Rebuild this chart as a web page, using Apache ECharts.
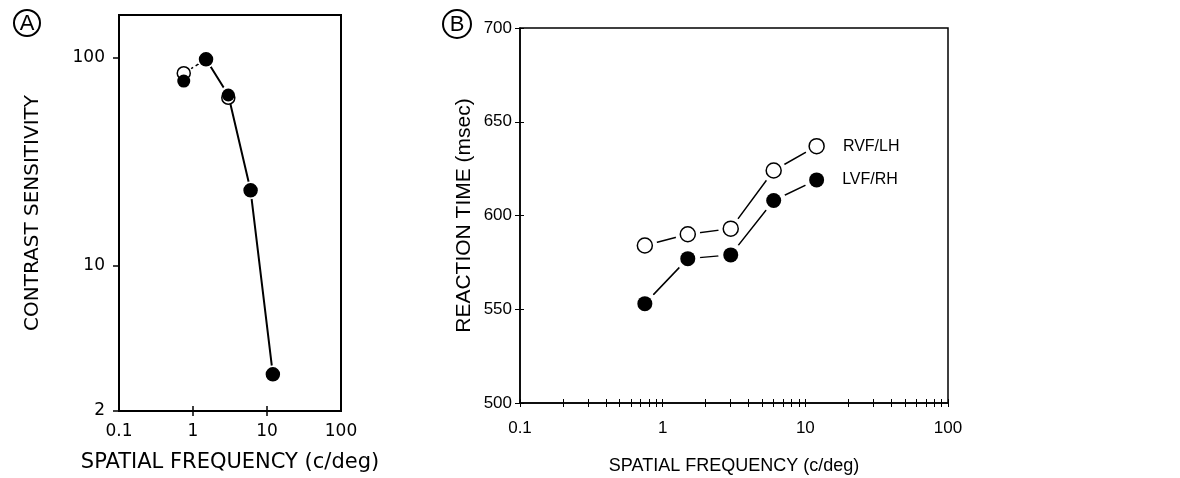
<!DOCTYPE html>
<html>
<head>
<meta charset="utf-8">
<script src="https://cdn.jsdelivr.net/npm/echarts@6/dist/echarts.min.js"></script>
<style>
  html, body { margin: 0; padding: 0; background: #fff; }
  #chart { width: 1180px; height: 478px; }
</style>
</head>
<body>
<div id="chart"></div>
<script>
// spatial frequencies (c/deg), shared by both panels
const freqs = [0.75, 1.5, 3, 6, 12]

// panel A: contrast sensitivity
const sensOpen = [84, 98, 64, 23, 3.0]
const sensFilled = [77, 98, 66, 23, 3.0]

// panel B: reaction time (msec)
const rtRVF = [584, 590, 593, 624, 637]
const rtLVF = [553, 577, 579, 608, 619]
const seriesNames = ['RVF/LH', 'LVF/RH']

// tick labels
const freqLabels = [0.1, 1, 10, 100]
const freqMinor = [0.2, 0.3, 0.4, 0.5, 0.6, 0.7, 0.8, 0.9, 2, 3, 4, 5, 6, 7, 8, 9, 20, 30, 40, 50, 60, 70, 80, 90]
const sensLabels = [2, 10, 100]
const rtLabels = [500, 550, 600, 650, 700]

const fontA = 'DejaVu Sans'
const fontB = "'Liberation Sans', sans-serif"
const ink = '#000'

function pairs(xs, ys) {
  return xs.map((x, i) => [x, ys[i]])
}

// last point carries the series name as a label
function labelled(data, name) {
  return data.map((d, i) => i === data.length - 1
    ? { value: d, label: { show: true, position: 'right', distance: 18, formatter: name, fontFamily: fontB, fontSize: 16, color: ink } }
    : d)
}

const chart = echarts.init(document.getElementById('chart'), null, { renderer: 'canvas' })

const lineBase = { type: 'line', symbol: 'circle', silent: true, z: 2 }
const halo = { color: '#fff', borderColor: '#fff', opacity: 1 }

const option = {
  animation: false,
  backgroundColor: '#fff',
  grid: [
    { left: 119, top: 15, width: 222, height: 396, show: true, borderColor: ink, borderWidth: 2, backgroundColor: 'transparent', outerBoundsMode: 'none' },
    { left: 520, top: 28, width: 428, height: 375, show: true, borderColor: ink, borderWidth: 1.5, backgroundColor: 'transparent', outerBoundsMode: 'none' },
  ],
  xAxis: [
    {
      gridIndex: 0, type: 'log', logBase: 10, min: 0.1, max: 100, position: 'bottom',
      name: 'SPATIAL FREQUENCY (c/deg)', nameLocation: 'middle', nameGap: 41,
      nameTextStyle: { fontFamily: fontA, fontSize: 21, color: ink },
      axisLine: { lineStyle: { color: ink, width: 2 } },
      axisTick: { show: true, length: 5, customValues: [1, 10], lineStyle: { color: ink, width: 1.5 } },
      axisLabel: { customValues: freqLabels, margin: 12, fontFamily: fontA, fontSize: 17, color: ink },
      splitLine: { show: false },
    },
    {
      gridIndex: 1, type: 'log', logBase: 10, min: 0.1, max: 100, position: 'bottom',
      name: 'SPATIAL FREQUENCY (c/deg)', nameLocation: 'middle', nameGap: 54,
      nameTextStyle: { fontFamily: fontB, fontSize: 18, color: ink },
      axisLine: { lineStyle: { color: ink, width: 1.5 } },
      axisTick: { show: true, length: 4, customValues: freqLabels.concat(freqMinor), lineStyle: { color: ink, width: 1 } },
      axisLabel: { customValues: freqLabels, margin: 17, fontFamily: fontB, fontSize: 17, color: ink },
      splitLine: { show: false },
    },
    {
      // inner half of the crossing ticks on panel B
      gridIndex: 1, type: 'log', logBase: 10, min: 0.1, max: 100, position: 'bottom',
      axisLine: { show: false },
      axisTick: { show: true, inside: true, length: 4, customValues: freqLabels.concat(freqMinor), lineStyle: { color: ink, width: 1 } },
      axisLabel: { show: false },
      splitLine: { show: false },
    },
    {
      gridIndex: 0, type: 'log', logBase: 10, min: 0.1, max: 100, position: 'bottom',
      axisLine: { show: false },
      axisTick: { show: true, inside: true, length: 5, customValues: [1, 10], lineStyle: { color: ink, width: 1.5 } },
      axisLabel: { show: false },
      splitLine: { show: false },
    },
  ],
  yAxis: [
    {
      gridIndex: 0, type: 'log', logBase: 10, min: 2, max: 160, position: 'left',
      name: 'CONTRAST SENSITIVITY', nameLocation: 'middle', nameGap: 76,
      nameTextStyle: { fontFamily: fontA, fontSize: 20, color: ink },
      axisLine: { lineStyle: { color: ink, width: 2 } },
      axisTick: { show: true, length: 6, customValues: sensLabels, lineStyle: { color: ink, width: 1.5 } },
      axisLabel: { customValues: sensLabels, margin: 14, fontFamily: fontA, fontSize: 17, color: ink },
      splitLine: { show: false },
    },
    {
      gridIndex: 1, type: 'value', min: 500, max: 700, interval: 50, position: 'left',
      name: 'REACTION TIME (msec)', nameLocation: 'middle', nameGap: 45,
      nameTextStyle: { fontFamily: fontB, fontSize: 21, color: ink },
      axisLine: { lineStyle: { color: ink, width: 1.5 } },
      axisTick: { show: true, length: 5, lineStyle: { color: ink, width: 1 } },
      axisLabel: { margin: 8, fontFamily: fontB, fontSize: 17, color: ink, formatter: v => rtLabels.includes(v) ? String(v) : '' },
      splitLine: { show: false },
    },
    {
      gridIndex: 1, type: 'value', min: 500, max: 700, interval: 50, position: 'left',
      axisLine: { show: false },
      axisTick: { show: true, inside: true, length: 4, lineStyle: { color: ink, width: 1 } },
      axisLabel: { show: false },
      splitLine: { show: false },
    },
  ],
  graphic: [
    { type: 'circle', shape: { cx: 27, cy: 23, r: 13 }, style: { fill: 'none', stroke: ink, lineWidth: 2 } },
    { type: 'text', x: 27, y: 24, style: { text: 'A', fontFamily: fontB, fontSize: 22, fill: ink, align: 'center', verticalAlign: 'middle' } },
    { type: 'circle', shape: { cx: 457, cy: 24, r: 14 }, style: { fill: 'none', stroke: ink, lineWidth: 2 } },
    { type: 'text', x: 457, y: 25, style: { text: 'B', fontFamily: fontB, fontSize: 22, fill: ink, align: 'center', verticalAlign: 'middle' } },
  ],
  series: [
    // ---- panel A ----
    {
      ...lineBase, xAxisIndex: 0, yAxisIndex: 0,
      data: pairs(freqs, sensOpen).slice(0, 2),
      symbolSize: 17, itemStyle: halo,
      lineStyle: { color: ink, width: 1.5, type: [4, 3] },
    },
    {
      ...lineBase, xAxisIndex: 0, yAxisIndex: 0,
      data: pairs(freqs, sensFilled).slice(1),
      symbolSize: 17, itemStyle: halo,
      lineStyle: { color: ink, width: 2 },
    },
    {
      type: 'scatter', xAxisIndex: 0, yAxisIndex: 0, z: 3, silent: true,
      data: pairs(freqs, sensOpen),
      symbol: 'circle', symbolSize: 13,
      itemStyle: { color: '#fff', borderColor: ink, borderWidth: 1.5, opacity: 1 },
    },
    {
      type: 'scatter', xAxisIndex: 0, yAxisIndex: 0, z: 4, silent: true,
      data: pairs(freqs, sensFilled),
      symbol: 'circle', symbolSize: 13,
      itemStyle: { color: ink, opacity: 1 },
    },
    // ---- panel B ----
    {
      ...lineBase, xAxisIndex: 1, yAxisIndex: 1,
      data: pairs(freqs, rtRVF),
      symbolSize: 24, itemStyle: halo,
      lineStyle: { color: ink, width: 1.5 },
    },
    {
      ...lineBase, xAxisIndex: 1, yAxisIndex: 1,
      data: pairs(freqs, rtLVF),
      symbolSize: 24, itemStyle: halo,
      lineStyle: { color: ink, width: 1.5 },
    },
    {
      name: seriesNames[0], type: 'scatter', xAxisIndex: 1, yAxisIndex: 1, z: 3, silent: true,
      data: labelled(pairs(freqs, rtRVF), seriesNames[0]),
      symbol: 'circle', symbolSize: 15,
      itemStyle: { color: '#fff', borderColor: ink, borderWidth: 1.5, opacity: 1 },
    },
    {
      name: seriesNames[1], type: 'scatter', xAxisIndex: 1, yAxisIndex: 1, z: 4, silent: true,
      data: labelled(pairs(freqs, rtLVF), seriesNames[1]),
      symbol: 'circle', symbolSize: 15,
      itemStyle: { color: ink, opacity: 1 },
    },
  ],
}

chart.setOption(option)
</script>
</body>
</html>
